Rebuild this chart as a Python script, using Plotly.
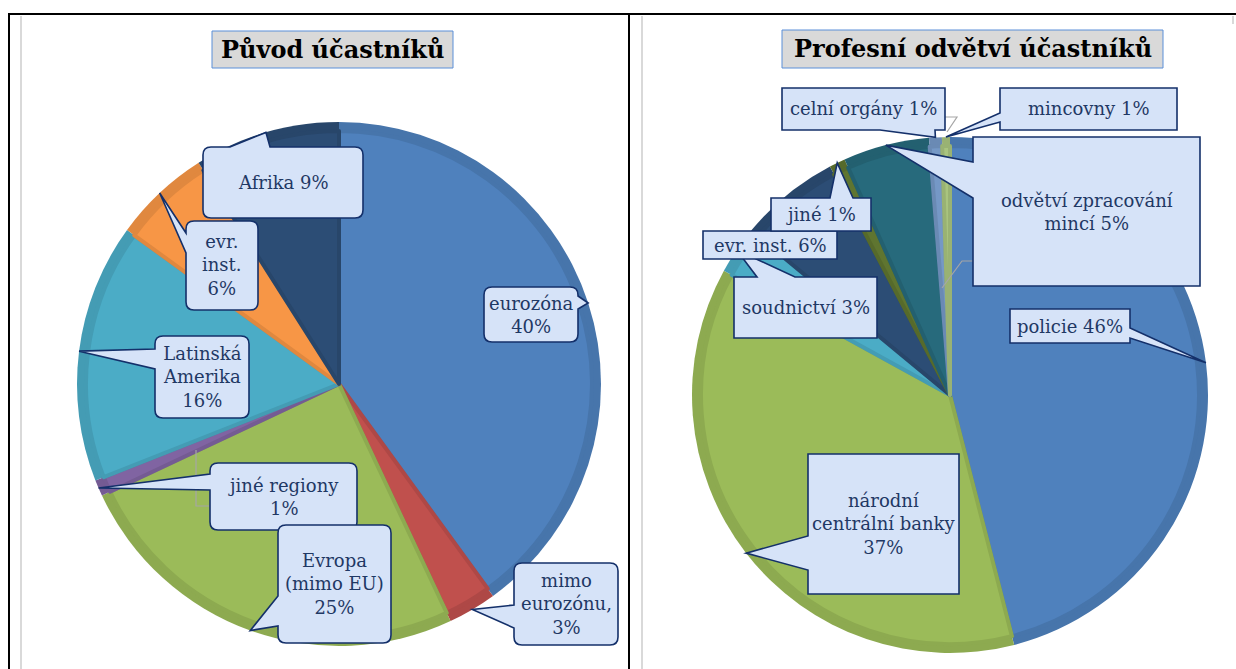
import math
import plotly.graph_objects as go

W, H = 1236, 669

# ---------------- data ----------------
origin_labels = ["eurozóna", "mimo eurozónu", "Evropa (mimo EU)", "jiné regiony",
                 "Latinská Amerika", "evr. inst.", "Afrika"]
origin_values = [40, 3, 25, 1, 16, 6, 9]
origin_texts = ["eurozóna<br>40%", "mimo<br>eurozónu,<br>3%", "Evropa<br>(mimo EU)<br>25%",
                "jiné regiony<br>1%", "Latinská<br>Amerika<br>16%", "evr.<br>inst.<br>6%", "Afrika 9%"]

sector_labels = ["policie", "národní centrální banky", "soudnictví", "evr. inst.", "jiné",
                 "odvětví zpracování mincí", "celní orgány", "mincovny"]
sector_values = [46.0, 37.0, 3.0, 6.3, 1.0, 5.4, 0.8, 0.5]
sector_texts = ["policie 46%", "národní<br>centrální banky<br>37%", "soudnictví 3%", "evr. inst. 6%",
                "jiné 1%", "odvětví zpracování<br>mincí 5%", "celní orgány 1%", "mincovny 1%"]

titles = ["Původ účastníků", "Profesní odvětví účastníků"]

# ---------------- styles ----------------
origin_colors = ["#4F81BD", "#C0504D", "#9BBB59", "#8064A2", "#4BACC6", "#F79646", "#2C4D75"]
sector_colors = ["#4F81BD", "#9BBB59", "#4BACC6", "#2C4D75", "#5F7530", "#276A7C", "#7598C6", "#A9C47F"]

FONT = "DejaVu Serif"
TXT = "#1F3864"
BOX_FILL = "#D6E3F8"
BOX_LINE = "#14306A"


def darker(c, f=0.9):
    c = c.lstrip("#")
    r, g, b = (int(c[i:i + 2], 16) for i in (0, 2, 4))
    return "#%02X%02X%02X" % (int(r * f), int(g * f), int(b * f))


def px(x):
    return x / W


def py(y):
    return 1 - y / H


# pie placement (pixels)
pies = [
    dict(cx=339, cy=384, r=262, labels=origin_labels, values=origin_values, colors=origin_colors),
    dict(cx=950, cy=395, r=258, labels=sector_labels, values=sector_values, colors=sector_colors),
]

fig = go.Figure()
for p in pies:
    for layer, inset in (("outer", 0), ("inner", 9)):
        rr = p["r"] - inset
        cols = [darker(c, 0.91) for c in p["colors"]] if layer == "outer" else p["colors"]
        fig.add_trace(go.Pie(
            labels=p["labels"], values=p["values"], sort=False, direction="clockwise",
            rotation=0, textinfo="none", hoverinfo="label+percent",
            marker=dict(colors=cols,
                        line=dict(color=[darker(c, 0.91) for c in p["colors"]],
                                  width=0 if layer == "outer" else 4)),
            domain=dict(x=[px(p["cx"] - rr), px(p["cx"] + rr)],
                        y=[py(p["cy"] + rr), py(p["cy"] - rr)]),
            showlegend=False,
        ))


def tip_point(p, idx, frac=0.5, rf=1.0):
    vals = p["values"]
    tot = sum(vals)
    a = (sum(vals[:idx]) + frac * vals[idx]) / tot * 2 * math.pi
    return (p["cx"] + rf * p["r"] * math.sin(a), p["cy"] - rf * p["r"] * math.cos(a))


def callout_path(box, rr, side, base, tip):
    x0, y0, x1, y1 = box
    segs = []

    def P(x, y):
        return f"{px(x):.5f},{py(y):.5f}"

    segs.append("M" + P(x0 + rr, y0))
    if side == "top":
        segs += ["L" + P(base[0], y0), "L" + P(*tip), "L" + P(base[1], y0)]
    segs.append("L" + P(x1 - rr, y0))
    if rr:
        segs.append("Q" + P(x1, y0) + " " + P(x1, y0 + rr))
    if side == "right":
        segs += ["L" + P(x1, base[0]), "L" + P(*tip), "L" + P(x1, base[1])]
    segs.append("L" + P(x1, y1 - rr))
    if rr:
        segs.append("Q" + P(x1, y1) + " " + P(x1 - rr, y1))
    if side == "bottom":
        segs += ["L" + P(base[1], y1), "L" + P(*tip), "L" + P(base[0], y1)]
    segs.append("L" + P(x0 + rr, y1))
    if rr:
        segs.append("Q" + P(x0, y1) + " " + P(x0, y1 - rr))
    if side == "left":
        segs += ["L" + P(x0, base[1]), "L" + P(*tip), "L" + P(x0, base[0])]
    segs.append("L" + P(x0, y0 + rr))
    if rr:
        segs.append("Q" + P(x0, y0) + " " + P(x0 + rr, y0))
    segs.append("Z")
    return " ".join(segs)


# callout layout: (pie index, slice index, box, side, base)
callouts = [
    (0, 3, (210, 463, 357, 530), "left", (474, 490)),
    (0, 2, (278, 525, 391, 643), "left", (596, 626)),
    (0, 0, (484, 287, 578, 342), "right", (296, 309)),
    (0, 1, (514, 563, 618, 645), "left", (605, 628)),
    (0, 4, (155, 336, 249, 418), "left", (349, 369)),
    (0, 5, (186, 221, 258, 310), "left", (233, 253)),
    (0, 6, (203, 147, 363, 218), "top", (230, 270)),
    (1, 5, (973, 137, 1200, 286), "left", (162, 198)),
    (1, 6, (782, 88, 945, 130), "bottom", (880, 935)),
    (1, 7, (1000, 88, 1177, 130), "left", (113, 122)),
    (1, 0, (1010, 309, 1130, 343), "right", (328, 338)),
    (1, 1, (808, 454, 959, 594), "left", (536, 570)),
    (1, 2, (734, 277, 877, 338), "top", (757, 795)),
    (1, 3, (703, 231, 837, 259), None, None),
    (1, 4, (771, 198, 871, 231), "top", (830, 853)),
]

shapes = []
annotations = []

# frame lines
for (xa, ya, xb, yb, col, w) in [
    (21, 16, 21, H, "#D9D9D9", 2), (642, 16, 642, H, "#D9D9D9", 2), (1233, 16, 1233, 24, "#D9D9D9", 2),
    (8, 14, W, 14, "#000000", 2), (9, 14, 9, H, "#000000", 2), (629, 14, 629, H, "#000000", 2),
]:
    shapes.append(dict(type="line", xref="paper", yref="paper", x0=px(xa), y0=py(ya), x1=px(xb), y1=py(yb),
                       line=dict(color=col, width=w), layer="above"))

# leader lines (gray)
for pts in [[(196, 450), (196, 506), (210, 506)],
            [(942, 288), (962, 261), (973, 261)],
            [(943, 117), (957, 117), (947, 132)]]:
    d = "M" + " L".join(f"{px(x):.5f},{py(y):.5f}" for x, y in pts)
    shapes.append(dict(type="path", xref="paper", yref="paper", path=d,
                       line=dict(color="#A6A6A6", width=1.2), layer="above"))

texts_by_pie = [origin_texts, sector_texts]
for (pi, si, box, side, base) in callouts:
    p = pies[pi]
    rr = 8 if pi == 0 else 0
    tip = tip_point(p, si) if side else None
    shapes.append(dict(type="path", xref="paper", yref="paper",
                       path=callout_path(box, rr, side, base, tip),
                       fillcolor=BOX_FILL, line=dict(color=BOX_LINE, width=1.6), layer="above"))
    annotations.append(dict(xref="paper", yref="paper", x=px((box[0] + box[2]) / 2), y=py((box[1] + box[3]) / 2),
                            text=texts_by_pie[pi][si], showarrow=False, xanchor="center", yanchor="middle",
                            align="center", font=dict(family=FONT, size=18, color=TXT)))

# titles
for box, t in zip([(212, 31, 453, 68), (782, 30, 1163, 68)], titles):
    shapes.append(dict(type="rect", xref="paper", yref="paper", x0=px(box[0]), y0=py(box[1]),
                       x1=px(box[2]), y1=py(box[3]), fillcolor="#D9D9D9",
                       line=dict(color="#5B8FD8", width=1), layer="above"))
    annotations.append(dict(xref="paper", yref="paper", x=px((box[0] + box[2]) / 2), y=py((box[1] + box[3]) / 2),
                            text=t, showarrow=False, xanchor="center", yanchor="middle",
                            font=dict(family=FONT, size=24, color="#000000", weight="bold")))

fig.update_layout(width=W, height=H, autosize=False, margin=dict(l=0, r=0, t=0, b=0, pad=0),
                  paper_bgcolor="white", plot_bgcolor="white", shapes=shapes, annotations=annotations,
                  showlegend=False)

fig.write_html("out.html", config={"displayModeBar": False},
               post_script="document.body.style.margin='0';")
